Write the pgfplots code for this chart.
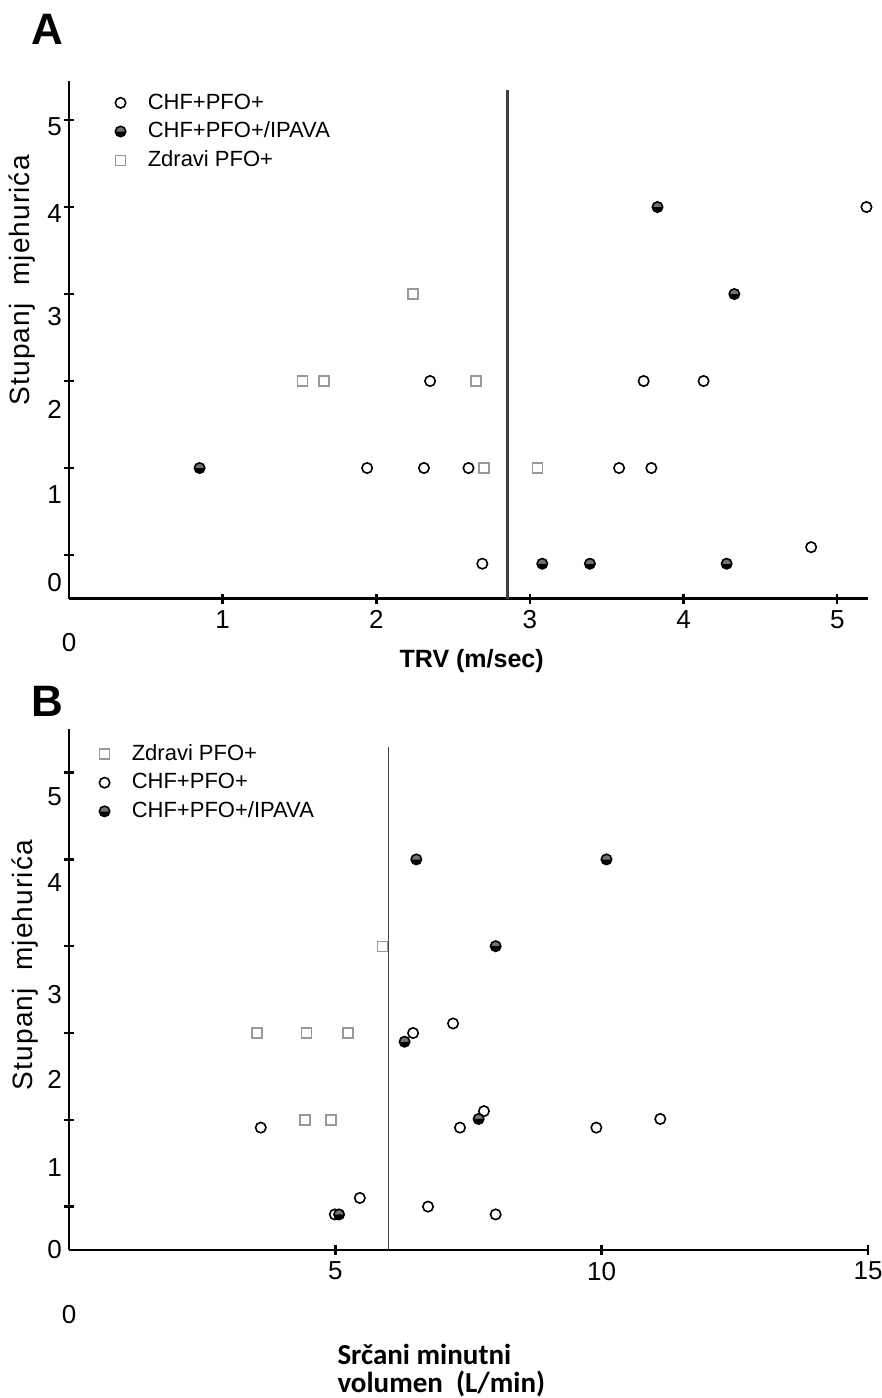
\documentclass[border=0pt]{standalone}
\usepackage{fontspec}
\setmainfont{Liberation Sans}
\newfontfamily\carlito{Carlito}
\newfontfamily\spaced[LetterSpace=4]{Liberation Sans}
\usepackage{pgfplots}
\pgfplotsset{compat=1.18}

\definecolor{sqgray}{gray}{0.6}
\definecolor{refline}{gray}{0.25}

\pgfplotsset{
  panel/.style={
    scale only axis,
    width=399.5pt,
    axis lines=left,
    axis line style={-, line width=1.4pt, black},
    tick align=center,
    major tick length=5pt,
    tick style={line width=1.2pt, black},
    ticklabel style={font=\fontsize{13}{13}\selectfont},
    /pgf/number format/assume math mode=true,
    yticklabels={},
    extra y tick style={major tick length=0pt},
    clip=false,
    legend cell align=left,
    legend style={draw=none, fill=none, font=\fontsize{11}{12}\selectfont,
      row sep=1pt, anchor=north west,
      /tikz/every odd column/.append style={column sep=9pt}},
    ylabel={Stupanj\ \ mjehurića},
    ylabel style={font=\spaced\fontsize{14}{14}\selectfont, anchor=center},
  },
  chfopen/.style={only marks, mark=o, mark size=2.6pt,
    mark options={line width=0.8pt, draw=black}},
  chfipava/.style={only marks, mark=halfcircle*, mark size=2.6pt,
    mark options={line width=0.8pt, draw=black, fill=black!55, mark color=black}},
  zdravi/.style={only marks, mark=square, mark size=2.5pt,
    mark options={line width=0.7pt, draw=sqgray}},
}

\begin{document}
\begin{tikzpicture}
\useasboundingbox (0,0) rectangle (441pt,-699pt);

\node[font=\bfseries\fontsize{22}{22}\selectfont] at (23.5pt,-14.5pt) {A};
\node[font=\bfseries\fontsize{22}{22}\selectfont] at (23.5pt,-350.5pt) {B};

% Panel A: TRV
\begin{axis}[panel,
  at={(34.5pt,-299.25pt)}, anchor=south west,
  height=258.8pt,
  xmin=0, xmax=5.2, ymin=-0.5, ymax=5.45,
  xtick={1,2,3,4,5},
  ytick={0,1,2,3,4,5},
  extra y ticks={-0.32,0.69,1.67,2.74,3.93,4.92},
  extra y tick labels={0,1,2,3,4,5},
  extra x ticks={0},
  extra x tick labels={0},
  extra x tick style={major tick length=0pt, xticklabel style={yshift=-14pt}},
  xlabel={TRV (m/sec)},
  xlabel style={font=\bfseries\fontsize{12.5}{12.5}\selectfont, anchor=center,
    at={(axis description cs:0.504,-0.12)}},
  ylabel style={at={(axis description cs:-0.059,0.615)}},
  legend style={at={(axis cs:0.26,5.40)}},
]
\addplot[chfopen] coordinates {
  (2.35,2) (1.94,1) (2.31,1) (2.60,1) (2.69,-0.1) (3.58,1) (3.79,1)
  (3.74,2) (4.13,2) (5.19,4) (4.83,0.09)
};
\addlegendentry{CHF+PFO+}
\addplot[chfipava] coordinates {
  (0.85,1) (3.83,4) (4.33,3) (3.08,-0.1) (3.39,-0.1) (4.28,-0.1)
};
\addlegendentry{CHF+PFO+/IPAVA}
\addplot[zdravi] coordinates {
  (2.24,3) (1.52,2) (1.66,2) (2.65,2) (2.70,1) (3.05,1)
};
\addlegendentry{Zdravi PFO+}
\addplot[refline, line width=1.2pt, forget plot] coordinates {(2.853,-0.5) (2.853,5.34)};
\end{axis}

% Panel B: cardiac output
\begin{axis}[panel,
  at={(34.5pt,-625pt)}, anchor=south west,
  height=260.4pt,
  xmin=0, xmax=15, ymin=-0.5, ymax=5.5,
  xtick={5,10,15},
  ytick={0,1,2,3,4,5},
  extra y ticks={-0.5,0.45,1.46,2.44,3.73,4.72},
  extra y tick labels={0,1,2,3,4,5},
  extra x ticks={0},
  extra x tick labels={0},
  extra x tick style={major tick length=0pt, xticklabel style={yshift=-24pt}},
  xlabel={Srčani minutni\\volumen\ \ (L/min)},
  xlabel style={font=\carlito\bfseries\fontsize{14.5}{14}\selectfont, align=left,
    anchor=center, at={(axis description cs:0.466,-0.232)}},
  ylabel style={at={(axis description cs:-0.055,0.547)}},
  legend style={at={(axis cs:0.45,5.42)}},
]
\addplot[zdravi] coordinates {
  (5.89,3) (3.53,2) (4.46,2) (5.24,2) (4.43,1) (4.92,1)
};
\addlegendentry{Zdravi PFO+}
\addplot[chfopen] coordinates {
  (3.60,0.91) (5.46,0.10) (4.99,-0.09) (6.46,2.0) (6.74,0.0) (7.21,2.11)
  (7.34,0.91) (7.79,1.10) (9.90,0.91) (11.1,1.01) (8.01,-0.09)
};
\addlegendentry{CHF+PFO+}
\addplot[chfipava] coordinates {
  (6.52,4) (10.09,4) (8.01,3) (6.30,1.90) (7.69,1.01) (5.07,-0.09)
};
\addlegendentry{CHF+PFO+/IPAVA}
\addplot[refline, line width=0.8pt, forget plot] coordinates {(6.0,-0.5) (6.0,5.30)};
\end{axis}
\end{tikzpicture}
\end{document}
